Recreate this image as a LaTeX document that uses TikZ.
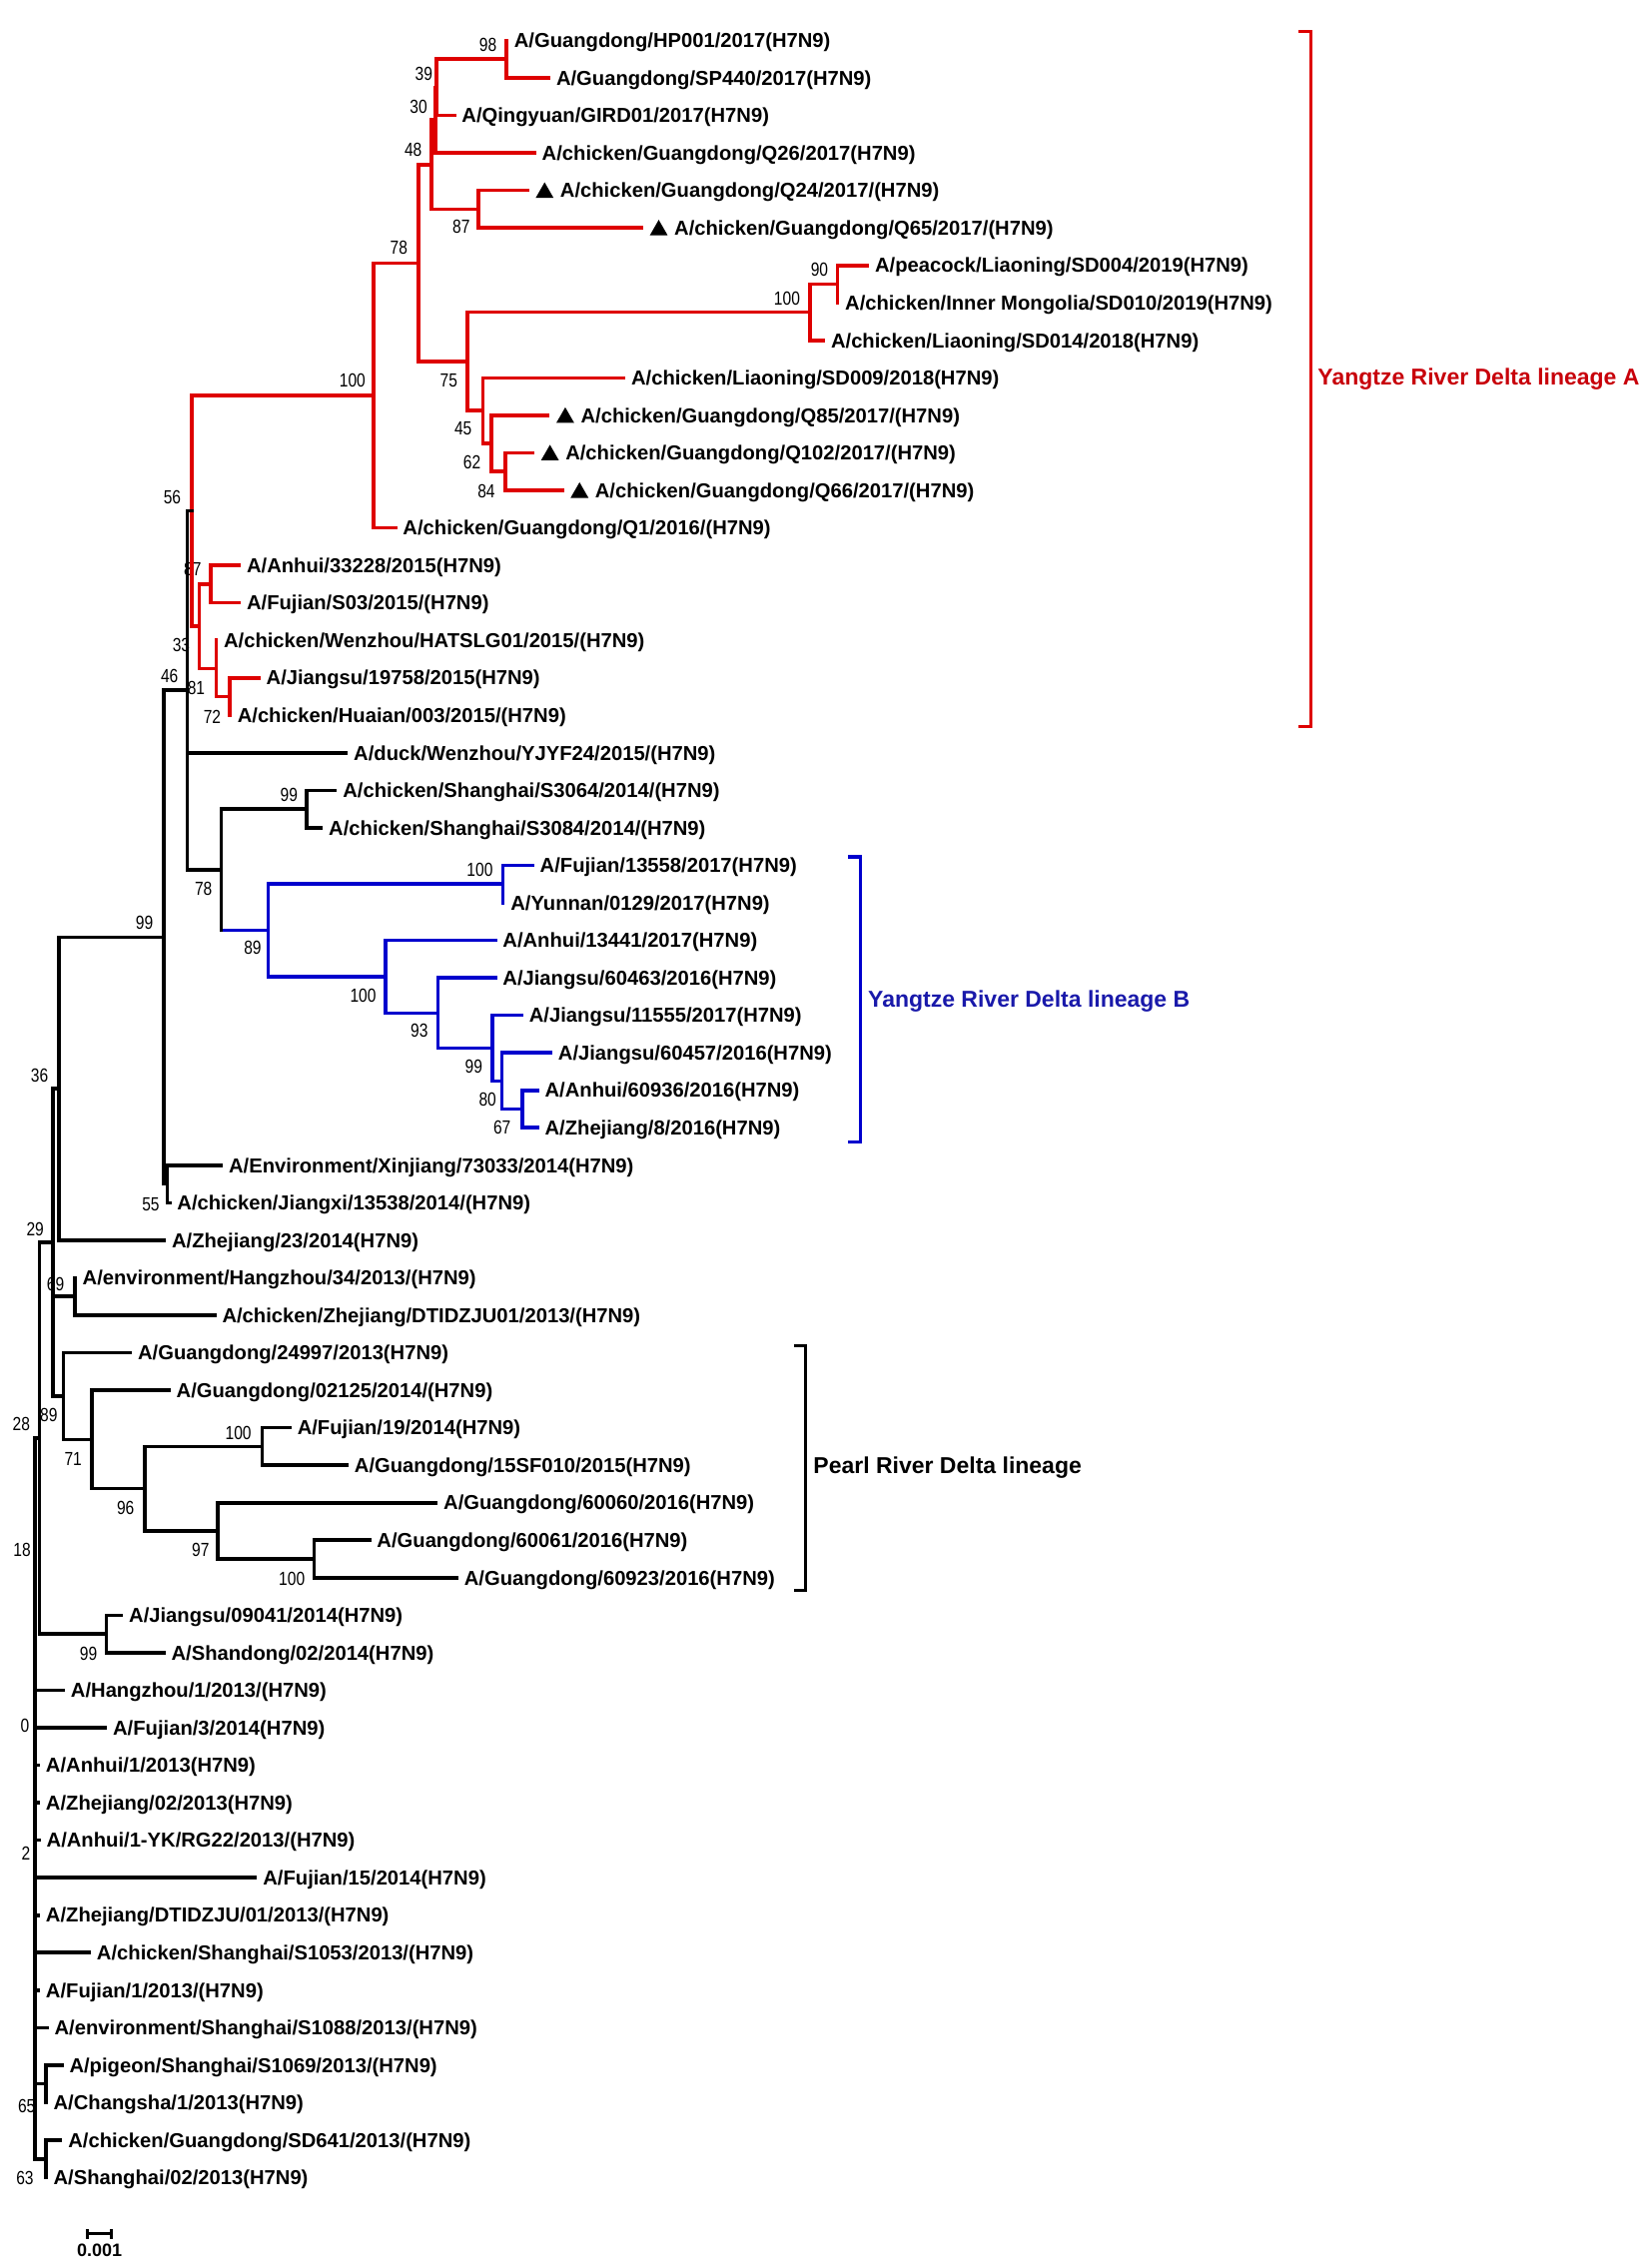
\documentclass[tikz,border=0pt]{standalone}
\usepackage{fontspec}
\setmainfont{Liberation Sans}
\usepackage{graphicx}
\definecolor{redl}{RGB}{222,0,0}
\definecolor{bluel}{RGB}{0,0,205}
\definecolor{redt}{RGB}{200,0,10}
\definecolor{bluet}{RGB}{25,25,170}
\newcommand\rowy[1]{(28+(#1-1)*25.98)}
\newcommand\myleaf[3]{\coordinate (L#1) at (#2,{\rowy{#1}});
  \node[lf] (T#1) at ({#2+5.2},{\rowy{#1}}) {#3};}
\newcommand\mytri[3]{\coordinate (L#1) at (#2,{\rowy{#1}});
  \fill[black] ({#2+5.8},{\rowy{#1}+5.2}) -- ({#2+18.2},{\rowy{#1}+5.2}) -- ({#2+12},{\rowy{#1}-5.6}) -- cycle;
  \node[lf] (T#1) at ({#2+22.7},{\rowy{#1}}) {#3};}
\newcommand\bsl[4]{\node[bs] (#1) at (#2,#3) {\scalebox{0.82}[1]{#4}};}
\begin{document}
\begin{tikzpicture}[x=1.4445pt, y=-1.4452pt,
  lf/.style={anchor=base west, inner sep=0pt, font=\fontsize{20.2}{24}\selectfont\bfseries, yshift=-7.2pt},
  bs/.style={inner sep=0pt, font=\fontsize{19}{22}\selectfont},
  br/.style={line width=3.6pt, line cap=rect, line join=miter},
  lab/.style={anchor=base west, inner sep=0pt, font=\fontsize{23}{27}\selectfont\bfseries, yshift=-8.3pt}]
\useasboundingbox[fill=white] (0,0) rectangle (1145,1568);
% bootstrap values
\bsl{b1}{338.3}{31}{98}
\bsl{b2}{293.8}{51.3}{39}
\bsl{b3}{290.1}{73.9}{30}
\bsl{b4}{286.4}{103.7}{48}
\bsl{b5}{319.7}{157.3}{87}
\bsl{b6}{276.5}{171.6}{78}
\bsl{b7}{568}{187.1}{90}
\bsl{b8}{545.5}{206.9}{100}
\bsl{b9}{244.3}{263.4}{100}
\bsl{b10}{311.1}{263.4}{75}
\bsl{b11}{321}{296.8}{45}
\bsl{b12}{327.2}{320.6}{62}
\bsl{b13}{337.1}{340.4}{84}
\bsl{b14}{119.4}{344.5}{56}
\bsl{b15}{133.5}{394.5}{87}
\bsl{b16}{125.6}{446.7}{33}
\bsl{b17}{117.5}{468.7}{46}
\bsl{b18}{136}{476.7}{81}
\bsl{b19}{147.1}{496.5}{72}
\bsl{b20}{200.3}{550.8}{99}
\bsl{b21}{332.6}{602.5}{100}
\bsl{b22}{141}{615.7}{78}
\bsl{b23}{100.1}{639.6}{99}
\bsl{b24}{175.1}{656.8}{89}
\bsl{b25}{251.7}{689.9}{100}
\bsl{b26}{290.6}{713.8}{93}
\bsl{b27}{328.4}{738.9}{99}
\bsl{b28}{338}{762}{80}
\bsl{b29}{348}{781}{67}
\bsl{b30}{27.4}{745.4}{36}
\bsl{b31}{104.5}{834.2}{55}
\bsl{b32}{24.4}{851.5}{29}
\bsl{b33}{38.5}{889.6}{69}
\bsl{b34}{33.8}{980.2}{89}
\bsl{b35}{14.8}{986.5}{28}
\bsl{b36}{165.2}{992.7}{100}
\bsl{b37}{50.7}{1010.7}{71}
\bsl{b38}{87}{1044.9}{96}
\bsl{b39}{139}{1074.2}{97}
\bsl{b40}{15.3}{1074.2}{18}
\bsl{b41}{202.3}{1093.8}{100}
\bsl{b42}{61.3}{1145.7}{99}
\bsl{b43}{17.3}{1195.8}{0}
\bsl{b44}{18}{1284.1}{2}
\bsl{b45}{18.5}{1459}{65}
\bsl{b46}{17.3}{1509}{63}
% internal nodes
\coordinate (n98) at (351.1,40.99);
\coordinate (n39) at (302.6,60.48);
\coordinate (n30) at (302.0,83.21);
\coordinate (n87) at (331.6,144.91);
\coordinate (n48) at (299.2,114.06);
\coordinate (n90) at (580.5,196.87);
\coordinate (n100b) at (561.4,216.36);
\coordinate (n84) at (350.2,326.77);
\coordinate (n62) at (340.8,307.29);
\coordinate (n45) at (334.6,284.56);
\coordinate (n75) at (323.9,250.46);
\coordinate (n78) at (290.1,182.26);
\coordinate (n100a) at (259.1,274.0);
\coordinate (n87b) at (145.9,404.71);
\coordinate (n72) at (159.3,482.65);
\coordinate (n81) at (149.8,463.17);
\coordinate (n33) at (138,433.94);
\coordinate (n56) at (132.8,353.97);
\coordinate (n46) at (129.7,478.29);
\coordinate (n99s) at (212.7,560.59);
\coordinate (n100c) at (348.7,612.55);
\coordinate (n67) at (362,768.43);
\coordinate (n80) at (348,748.95);
\coordinate (n99b) at (341.3,726.22);
\coordinate (n93) at (303.7,701.86);
\coordinate (n100d) at (267.1,676.69);
\coordinate (n89) at (186,644.62);
\coordinate (n78b) at (153.3,602.6);
\coordinate (n55) at (116,820.39);
\coordinate (n99) at (113.4,649.35);
\coordinate (n36) at (40.7,754.36);
\coordinate (n69) at (51.9,898.33);
\coordinate (n100e) at (181.8,1002.25);
\coordinate (n100f) at (217.6,1080.19);
\coordinate (n97) at (150.9,1060.7);
\coordinate (n96) at (100.2,1031.48);
\coordinate (n71) at (63.8,997.38);
\coordinate (n89p) at (44,967.34);
\coordinate (n29) at (36.6,860.85);
\coordinate (n99c) at (73.6,1132.15);
\coordinate (n28) at (27.4,996.5);
\coordinate (n65) at (31.8,1443.91);
\coordinate (n63) at (31.8,1495.87);
\coordinate (sp) at (24.4,1246.2);
% leaves
\myleaf{1}{351.1}{A/Guangdong/HP001/2017(H7N9)}
\myleaf{2}{380.3}{A/Guangdong/SP440/2017(H7N9)}
\myleaf{3}{314.8}{A/Qingyuan/GIRD01/2017(H7N9)}
\myleaf{4}{370.4}{A/chicken/Guangdong/Q26/2017(H7N9)}
\mytri{5}{365.5}{A/chicken/Guangdong/Q24/2017/(H7N9)}
\mytri{6}{444.6}{A/chicken/Guangdong/Q65/2017/(H7N9)}
\myleaf{7}{601.2}{A/peacock/Liaoning/SD004/2019(H7N9)}
\myleaf{8}{580.5}{A/chicken/Inner Mongolia/SD010/2019(H7N9)}
\myleaf{9}{570.7}{A/chicken/Liaoning/SD014/2018(H7N9)}
\myleaf{10}{432.3}{A/chicken/Liaoning/SD009/2018(H7N9)}
\mytri{11}{379.8}{A/chicken/Guangdong/Q85/2017/(H7N9)}
\mytri{12}{369.2}{A/chicken/Guangdong/Q102/2017/(H7N9)}
\mytri{13}{389.7}{A/chicken/Guangdong/Q66/2017/(H7N9)}
\myleaf{14}{274}{A/chicken/Guangdong/Q1/2016/(H7N9)}
\myleaf{15}{165.7}{A/Anhui/33228/2015(H7N9)}
\myleaf{16}{165.7}{A/Fujian/S03/2015/(H7N9)}
\myleaf{17}{149.8}{A/chicken/Wenzhou/HATSLG01/2015/(H7N9)}
\myleaf{18}{179.3}{A/Jiangsu/19758/2015(H7N9)}
\myleaf{19}{159.3}{A/chicken/Huaian/003/2015/(H7N9)}
\myleaf{20}{239.9}{A/duck/Wenzhou/YJYF24/2015/(H7N9)}
\myleaf{21}{232.4}{A/chicken/Shanghai/S3064/2014/(H7N9)}
\myleaf{22}{222.6}{A/chicken/Shanghai/S3084/2014/(H7N9)}
\myleaf{23}{369}{A/Fujian/13558/2017(H7N9)}
\myleaf{24}{348.7}{A/Yunnan/0129/2017(H7N9)}
\myleaf{25}{343.2}{A/Anhui/13441/2017(H7N9)}
\myleaf{26}{343.2}{A/Jiangsu/60463/2016(H7N9)}
\myleaf{27}{361.5}{A/Jiangsu/11555/2017(H7N9)}
\myleaf{28}{381.6}{A/Jiangsu/60457/2016(H7N9)}
\myleaf{29}{372.4}{A/Anhui/60936/2016(H7N9)}
\myleaf{30}{372.4}{A/Zhejiang/8/2016(H7N9)}
\myleaf{31}{153.3}{A/Environment/Xinjiang/73033/2014(H7N9)}
\myleaf{32}{117.5}{A/chicken/Jiangxi/13538/2014/(H7N9)}
\myleaf{33}{113.8}{A/Zhejiang/23/2014(H7N9)}
\myleaf{34}{51.9}{A/environment/Hangzhou/34/2013/(H7N9)}
\myleaf{35}{148.7}{A/chicken/Zhejiang/DTIDZJU01/2013/(H7N9)}
\myleaf{36}{90.3}{A/Guangdong/24997/2013(H7N9)}
\myleaf{37}{117}{A/Guangdong/02125/2014/(H7N9)}
\myleaf{38}{200.8}{A/Fujian/19/2014(H7N9)}
\myleaf{39}{240.4}{A/Guangdong/15SF010/2015(H7N9)}
\myleaf{40}{302.2}{A/Guangdong/60060/2016(H7N9)}
\myleaf{41}{256}{A/Guangdong/60061/2016(H7N9)}
\myleaf{42}{316.5}{A/Guangdong/60923/2016(H7N9)}
\myleaf{43}{84.1}{A/Jiangsu/09041/2014(H7N9)}
\myleaf{44}{113.5}{A/Shandong/02/2014(H7N9)}
\myleaf{45}{43.8}{A/Hangzhou/1/2013/(H7N9)}
\myleaf{46}{73}{A/Fujian/3/2014(H7N9)}
\myleaf{47}{26.5}{A/Anhui/1/2013(H7N9)}
\myleaf{48}{26.5}{A/Zhejiang/02/2013(H7N9)}
\myleaf{49}{27}{A/Anhui/1-YK/RG22/2013/(H7N9)}
\myleaf{50}{177}{A/Fujian/15/2014(H7N9)}
\myleaf{51}{26.5}{A/Zhejiang/DTIDZJU/01/2013/(H7N9)}
\myleaf{52}{61.8}{A/chicken/Shanghai/S1053/2013/(H7N9)}
\myleaf{53}{26.5}{A/Fujian/1/2013/(H7N9)}
\myleaf{54}{32.5}{A/environment/Shanghai/S1088/2013/(H7N9)}
\myleaf{55}{42.8}{A/pigeon/Shanghai/S1069/2013/(H7N9)}
\myleaf{56}{31.8}{A/Changsha/1/2013(H7N9)}
\myleaf{57}{42}{A/chicken/Guangdong/SD641/2013/(H7N9)}
\myleaf{58}{31.8}{A/Shanghai/02/2013(H7N9)}
% red branches (lineage A)
\foreach \p/\c in {n98/L1,n98/L2,n39/n98,n39/L3,n30/n39,n30/L4,n87/L5,n87/L6,
  n48/n30,n48/n87,n90/L7,n90/L8,n100b/n90,n100b/L9,n84/L12,n84/L13,n62/L11,n62/n84,
  n45/L10,n45/n62,n75/n100b,n75/n45,n78/n48,n78/n75,n100a/n78,n100a/L14,
  n87b/L15,n87b/L16,n72/L18,n72/L19,n81/L17,n81/n72,n33/n87b,n33/n81,n56/n100a,n56/n33}
  {\draw[br,redl] (\p) |- (\c);}
% blue branches (lineage B)
\foreach \p/\c in {n100c/L23,n100c/L24,n67/L29,n67/L30,n80/L28,n80/n67,n99b/L27,n99b/n80,
  n93/L26,n93/n99b,n100d/L25,n100d/n93,n89/n100c,n89/n100d,n78b/n89}
  {\draw[br,bluel] (\p) |- (\c);}
% black branches
\draw[br] (n78b) -- (n78b |- n89);
\foreach \p/\c in {n46/n56,n46/L20,n46/n78b,n99s/L21,n99s/L22,n78b/n99s,
  n55/L31,n55/L32,n99/n46,n99/n55,n36/n99,n36/L33,n69/L34,n69/L35,
  n100e/L38,n100e/L39,n100f/L41,n100f/L42,n97/L40,n97/n100f,n96/n100e,n96/n97,
  n71/L37,n71/n96,n89p/L36,n89p/n71,n29/n36,n29/n69,n29/n89p,n99c/L43,n99c/L44,
  n28/n29,n28/n99c,n65/L55,n65/L56,n63/L57,n63/L58,
  sp/n28,sp/L45,sp/L46,sp/L47,sp/L48,sp/L49,sp/L50,sp/L51,sp/L52,sp/L53,sp/L54,sp/n65,sp/n63}
  {\draw[br] (\p) |- (\c);}
% brackets
\coordinate (a1) at (901.1,21.8); \coordinate (a2) at (908.7,21.8);
\coordinate (a3) at (908.7,503.3); \coordinate (a4) at (901.1,503.3);
\draw[br,redl] (a1) -- (a2) -- (a3) -- (a4);
\node[lab,text=redt] (labA) at (913.3,260.9) {Yangtze River Delta lineage A};
\coordinate (c1) at (589.3,593.9); \coordinate (c2) at (596.4,593.9);
\coordinate (c3) at (596.4,791.3); \coordinate (c4) at (589.3,791.3);
\draw[br,bluel] (c1) -- (c2) -- (c3) -- (c4);
\node[lab,text=bluet] (labB) at (601.6,691.8) {Yangtze River Delta lineage B};
\coordinate (d1) at (551.3,932.3); \coordinate (d2) at (558.3,932.3);
\coordinate (d3) at (558.3,1101.9); \coordinate (d4) at (551.3,1101.9);
\draw[br] (d1) -- (d2) -- (d3) -- (d4);
\node[lab] (labP) at (563.7,1015.3) {Pearl River Delta lineage};
% scale bar
\coordinate (s1) at (60.5,1547.5); \coordinate (s2) at (77.3,1547.5);
\draw[line width=3pt] (s1) -- (s2);
\draw[line width=2.6pt] ([yshift=4pt]s1) -- ([yshift=-6pt]s1);
\draw[line width=2.6pt] ([yshift=4pt]s2) -- ([yshift=-6pt]s2);
\node[inner sep=0pt, font=\fontsize{18}{20}\selectfont\bfseries] (sl) at (69,1559) {0.001};
\end{tikzpicture}
\end{document}
